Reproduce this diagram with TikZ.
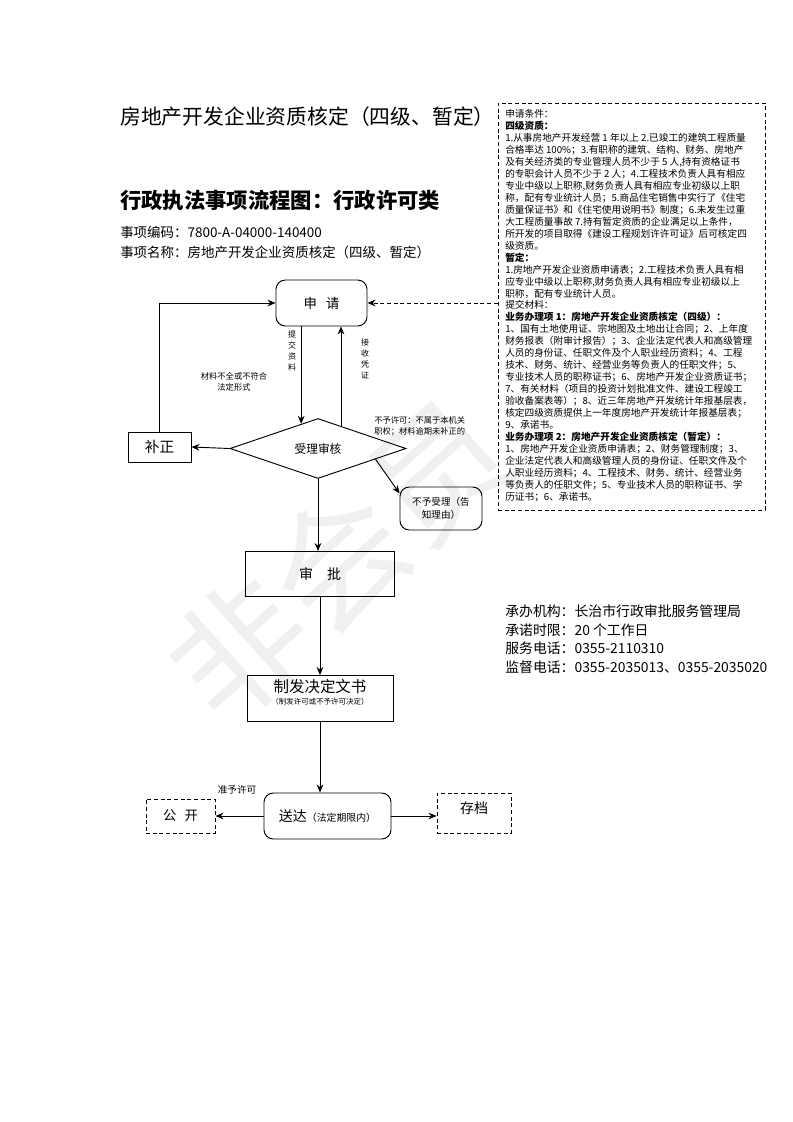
\documentclass[tikz,border=0pt]{standalone}
\usepackage{fontspec}
\setmainfont{Noto Sans CJK SC}
\usetikzlibrary{arrows.meta, positioning, calc, shapes.geometric}
\newcommand{\fsz}[2]{\fontsize{#1}{#2}\selectfont}
\tikzset{
  block/.style    = {draw, rectangle, line width=0.7pt,
                     inner sep=0pt, align=center},
  rblock/.style   = {block, rounded corners=7pt},
  dblock/.style   = {block, dash pattern=on 3pt off 2pt},
  decision/.style = {draw, diamond, line width=0.7pt, aspect=2.9,
                     minimum width=132pt, minimum height=45pt, inner sep=0pt},
  lbl/.style      = {font=\fsz{6.2}{8.2}, inner sep=0pt, align=center},
  txt/.style      = {anchor=west, inner sep=0pt},
  wire/.style     = {line width=0.7pt, -{Stealth[length=6pt,width=5pt]}},
}

\begin{document}
\begin{tikzpicture}[x=0.75pt, y=-0.75pt]
  \useasboundingbox (0,0) rectangle (793,1122);

  %% watermark
  \node[font=\fsz{100}{100}, text=black!6, rotate=42] (wm) at (338,560) {非会员};

  %% headings
  \node[txt, font=\fsz{15.6}{18}] (t1) at (120,117) {房地产开发企业资质核定（四级、暂定）};
  \node[txt, font=\fsz{16}{18}\bfseries] (t2) at (120,200) {行政执法事项流程图：行政许可类};
  \node[txt, font=\fsz{10.1}{12}] (code) at (120,232) {事项编码：7800-A-04000-140400};
  \node[txt, font=\fsz{10.1}{12}] (name) at (120,252) {事项名称：房地产开发企业资质核定（四级、暂定）};

  %% conditions box
  \node[dblock, minimum width=200.25pt, minimum height=305.25pt] (cond) at (631.5,306.5) {};
  \node[anchor=north west, inner sep=0pt, align=left, font=\fsz{7.25}{8.98}]
       (condtxt) at (505,109) {%
    申请条件：\\
    \textbf{四级资质：}\\
    1.从事房地产开发经营 1 年以上 2.已竣工的建筑工程质量\\
    合格率达 100\%；3.有职称的建筑、结构、财务、房地产\\
    及有关经济类的专业管理人员不少于 5 人,持有资格证书\\
    的专职会计人员不少于 2 人；4.工程技术负责人具有相应\\
    专业中级以上职称,财务负责人具有相应专业初级以上职\\
    称，配有专业统计人员；5.商品住宅销售中实行了《住宅\\
    质量保证书》和《住宅使用说明书》制度；6.未发生过重\\
    大工程质量事故 7.持有暂定资质的企业满足以上条件，\\
    所开发的项目取得《建设工程规划许许可证》后可核定四\\
    级资质。\\
    \textbf{暂定：}\\
    1.房地产开发企业资质申请表；2.工程技术负责人具有相\\
    应专业中级以上职称,财务负责人具有相应专业初级以上\\
    职称，配有专业统计人员。\\
    提交材料：\\
    \textbf{业务办理项 1：房地产开发企业资质核定（四级）：}\\
    1、国有土地使用证、宗地图及土地出让合同；2、上年度\\
    财务报表（附审计报告）；3、企业法定代表人和高级管理\\
    人员的身份证、任职文件及个人职业经历资料；4、工程\\
    技术、财务、统计、经营业务等负责人的任职文件；5、\\
    专业技术人员的职称证书；6、房地产开发企业资质证书；\\
    7、有关材料（项目的投资计划批准文件、建设工程竣工\\
    验收备案表等）；8、近三年房地产开发统计年报基层表，\\
    核定四级资质提供上一年度房地产开发统计年报基层表；\\
    9、承诺书。\\
    \textbf{业务办理项 2：房地产开发企业资质核定（暂定）：}\\
    1、房地产开发企业资质申请表；2、财务管理制度；3、\\
    企业法定代表人和高级管理人员的身份证、任职文件及个\\
    人职业经历资料；4、工程技术、财务、统计、经营业务\\
    等负责人的任职文件；5、专业技术人员的职称证书、学\\
    历证书；6、承诺书。};

  %% flow nodes
  \node[rblock, minimum width=68.25pt, minimum height=34.5pt, font=\fsz{10}{12}]
       (apply) at (321.5,303) {申\hspace{0.7em}请};
  \node[decision, font=\fsz{8.8}{10}] (check) at (318,448.5) {受理审核};
  \node[block, minimum width=47.25pt, minimum height=22.5pt, font=\fsz{11}{12}]
       (fix) at (159.5,447) {补正};
  \node[rblock, minimum width=61.5pt, minimum height=32.25pt, font=\fsz{7.2}{9.8}]
       (reject) at (441,508.5) {不予受理（告\\知理由）};
  \node[block, minimum width=111.75pt, minimum height=33.75pt, font=\fsz{10.5}{12}]
       (approve) at (320,574) {审\quad 批};
  \node[block, minimum width=109.5pt, minimum height=34.5pt, anchor=north]
       (decide) at (320,675) {};
  \node[font=\fsz{11.6}{13}, inner sep=0pt] (decideA) at (320,687) {制发决定文书};
  \node[font=\fsz{5.6}{7}, inner sep=0pt] (decideB) at (320,702) {（制发许可或不予许可决定）};
  \node[rblock, minimum width=95.25pt, minimum height=34.5pt]
       (deliver) at (327.5,816) {{\fsz{10.5}{12}送达}{\fsz{7.4}{9}（法定期限内）}};
  \node[dblock, minimum width=51.75pt, minimum height=25.5pt, font=\fsz{10}{12}]
       (public) at (180.5,816) {公\hspace{0.6em}开};
  \node[dblock, minimum width=55.5pt, minimum height=30pt, anchor=north]
       (archive) at (474,793) {};
  \node[font=\fsz{10.5}{12}, inner sep=0pt] (archiveT) at (474,808) {存档};

  %% port points on the diamond edges
  \coordinate (subIn)  at ($(check.north)!0.19!(check.west)$);
  \coordinate (recOut) at ($(check.north)!0.26!(check.east)$);
  \coordinate (rejOut) at ($(check.east)!0.35!(check.south)$);

  %% wires
  \draw[wire] (apply.south -| subIn) -- (subIn);
  \draw[wire] (recOut) -- (recOut |- apply.south);
  \draw[wire] (check.west) -- (fix.east);
  \draw[wire] (fix.north) |- (apply.west);
  \draw[wire, dash pattern=on 3pt off 2pt] (apply.east -| cond.west) -- (apply.east);
  \draw[wire] (rejOut) -- (reject.160);
  \draw[wire] (check.south) -- (check.south |- approve.north);
  \draw[wire] (approve.south) -- (decide.north);
  \draw[wire] (decide.south) -- (decide.south |- deliver.north);
  \draw[wire] (deliver.west) -- node[lbl, font=\fsz{7.2}{9}, above=16pt, pos=0.55] (permit) {准予许可} (public.east);
  \draw[wire] (deliver.east) -- (deliver.east -| archive.west);

  %% wire labels
  \node[lbl, font=\fsz{6}{8.25}] (submitT) at (292,351) {提\\交\\资\\料};
  \node[lbl, font=\fsz{6}{8.25}] (receiveT) at (365,359) {接\\收\\凭\\证};
  \node[lbl] (lackT) at (234,382) {材料不全或不符合\\法定形式};
  \node[lbl, align=left, anchor=west] (denyT) at (374,426.5) {不予许可：不属于本机关\\职权；材料逾期未补正的};

  %% office info
  \node[txt, font=\fsz{10.4}{12}] (office) at (505,611) {承办机构：长治市行政审批服务管理局};
  \node[txt, font=\fsz{10.4}{12}] (limit)  at (505,630) {承诺时限：20 个工作日};
  \node[txt, font=\fsz{10.4}{12}] (phone)  at (505,648.5) {服务电话：0355-2110310};
  \node[txt, font=\fsz{10.4}{12}] (super)  at (505,667) {监督电话：0355-2035013、0355-2035020};
\end{tikzpicture}
\end{document}
